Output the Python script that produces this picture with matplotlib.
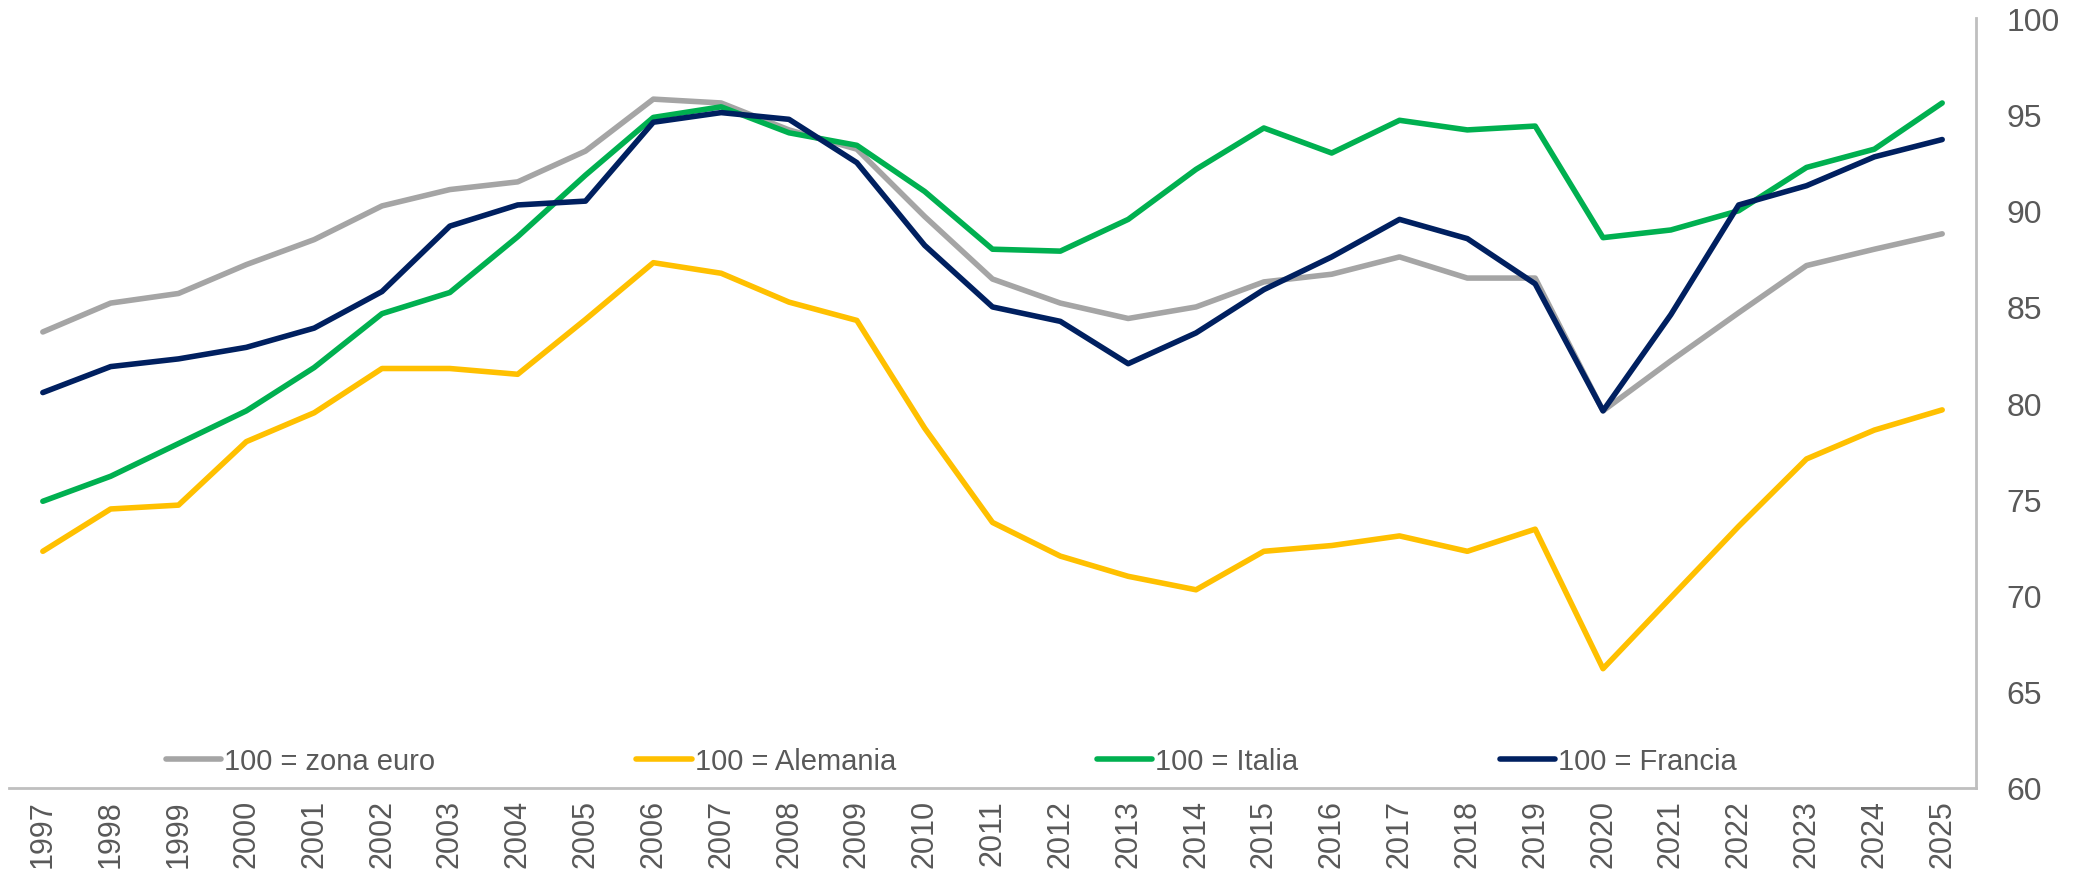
import numpy as np
import matplotlib
matplotlib.use("Agg")
import matplotlib.pyplot as plt

plt.rcParams['font.family'] = ['Liberation Sans', 'DejaVu Sans']

years = list(range(1997, 2026))

zona_euro = [83.7, 85.2, 85.7, 87.2, 88.5, 90.25, 91.1, 91.5, 93.1, 95.8,
             95.6, 94.2, 93.2, 89.7, 86.45, 85.2, 84.4, 85.0, 86.3, 86.7,
             87.6, 86.5, 86.5, 79.6, 82.2, 84.7, 87.15, 88.0, 88.8]
alemania = [72.3, 74.5, 74.7, 78.0, 79.5, 81.8, 81.8, 81.5, 84.35, 87.3,
            86.75, 85.25, 84.3, 78.7, 73.8, 72.05, 71.0, 70.3, 72.3, 72.6,
            73.1, 72.3, 73.45, 66.2, 69.9, 73.6, 77.1, 78.6, 79.65]
italia = [74.9, 76.2, 77.9, 79.6, 81.85, 84.65, 85.75, 88.65, 91.85, 94.85,
          95.4, 94.05, 93.4, 91.0, 88.0, 87.9, 89.55, 92.15, 94.3, 93.0,
          94.7, 94.2, 94.4, 88.6, 89.0, 90.0, 92.25, 93.2, 95.6]
francia = [80.55, 81.9, 82.3, 82.9, 83.9, 85.8, 89.2, 90.3, 90.5, 94.6,
           95.1, 94.75, 92.5, 88.2, 85.0, 84.25, 82.05, 83.65, 85.9, 87.6,
           89.55, 88.55, 86.2, 79.6, 84.6, 90.3, 91.3, 92.8, 93.7]

series = [
    ("100 = zona euro", zona_euro, "#A5A5A5"),
    ("100 = Alemania", alemania, "#FFC000"),
    ("100 = Italia", italia, "#00B050"),
    ("100 = Francia", francia, "#002060"),
]

fig = plt.figure(figsize=(20.74, 8.78), dpi=100)
ax = fig.add_axes([0.0043, 0.1014, 0.9485, 0.8766])

for label, vals, col in series:
    ax.plot(years, vals, color=col, lw=4, label=label, solid_capstyle='round')

ax.set_xlim(1996.5, 2025.5)
ax.set_ylim(60, 100)
ax.set_yticks(np.arange(60, 101, 5))
ax.set_xticks(years)
ax.set_xticklabels([str(y) for y in years], rotation=90, fontsize=22, color='#595959')

ax.yaxis.tick_right()
ax.tick_params(axis='y', length=0, pad=22, labelsize=23, labelcolor='#595959')
ax.tick_params(axis='x', length=0, pad=8)

for s in ['top', 'left']:
    ax.spines[s].set_visible(False)
for s in ['right', 'bottom']:
    ax.spines[s].set_color('#BFBFBF')
    ax.spines[s].set_linewidth(2)

leg = ax.legend(loc='center', bbox_to_anchor=(0.479, 0.035), ncol=4, frameon=False,
                fontsize=21, handlelength=1.9, handletextpad=0.1, columnspacing=6.9)
for t in leg.get_texts():
    t.set_color('#595959')

fig.savefig("out.png", dpi=100)
